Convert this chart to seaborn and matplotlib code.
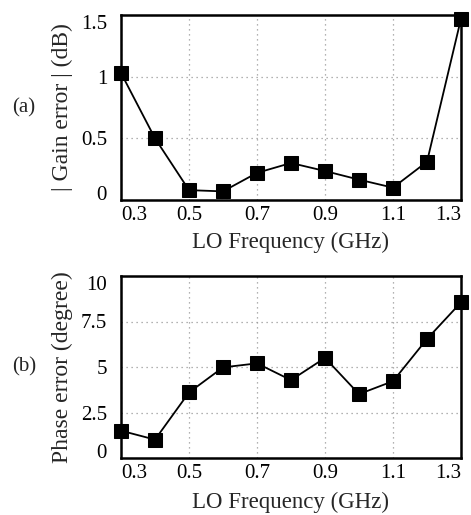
import matplotlib
matplotlib.use("Agg")
import matplotlib.pyplot as plt
import seaborn as sns
import pandas as pd

freq = [0.3, 0.4, 0.5, 0.6, 0.7, 0.8, 0.9, 1.0, 1.1, 1.2, 1.3]
gain_err = [1.03, 0.50, 0.08, 0.07, 0.22, 0.30, 0.235, 0.165, 0.10, 0.31, 1.47]
phase_err = [1.50, 1.01, 3.60, 4.98, 5.20, 4.28, 5.50, 3.51, 4.22, 6.54, 8.55]

xticks = [0.3, 0.5, 0.7, 0.9, 1.1, 1.3]
xticklabels = ["0.3", "0.5", "0.7", "0.9", "1.1", "1.3"]
gain_ticks = [0, 0.5, 1, 1.5]
gain_ticklabels = ["0", "0.5", "1", "1.5"]
phase_ticks = [0, 2.5, 5, 7.5, 10]
phase_ticklabels = ["0", "2.5", "5", "7.5", "10"]

sns.set_style("white")
plt.rcParams['font.family'] = ['Liberation Serif', 'DejaVu Serif']

W, H = 471, 515
fig = plt.figure(figsize=(W / 100, H / 100), dpi=100)

def px_axes(left, top, right, bottom):
    return fig.add_axes([left / W, 1 - bottom / H, (right - left) / W, (bottom - top) / H])

ax1 = px_axes(121, 15, 461, 200)
ax2 = px_axes(121, 276, 461, 458)

df = pd.DataFrame({"freq": freq, "gain": gain_err, "phase": phase_err})

for ax, col, ylim, yt, ytl, ylab, tag, lp in [
    (ax1, "gain", (0, 1.5), gain_ticks, gain_ticklabels, "| Gain error | (dB)", "(a)", 5),
    (ax2, "phase", (0, 10), phase_ticks, phase_ticklabels, "Phase error (degree)", "(b)", 7),
]:
    sns.lineplot(data=df, x="freq", y=col, ax=ax, color="black", linewidth=1.3,
                 marker="s", markersize=9.5, markeredgecolor="black",
                 markerfacecolor="black", clip_on=False, zorder=5)
    ax.set_xlim(0.3, 1.3)
    ax.set_ylim(*ylim)
    ax.set_xticks(xticks)
    ax.set_xticklabels(xticklabels, fontsize=15)
    ax.set_yticks(yt)
    ax.set_yticklabels(ytl, fontsize=15)
    xl = ax.get_xticklabels()
    xl[0].set_horizontalalignment("left")
    xl[-1].set_horizontalalignment("right")
    yl = ax.get_yticklabels()
    yl[0].set_verticalalignment("baseline")
    yl[-1].set_verticalalignment("top")
    ax.tick_params(axis="x", length=0, pad=4, colors="black")
    ax.tick_params(axis="y", length=0, pad=10, colors="black")
    ax.grid(True, linestyle=(0, (1, 3)), color="#999999", linewidth=0.9)
    for s in ax.spines.values():
        s.set_visible(True)
        s.set_color("black")
        s.set_linewidth(1.8)
    ax.set_xlabel("LO Frequency (GHz)", fontsize=16.5, labelpad=lp)
    ax.set_ylabel(ylab, fontsize=17)
    ax.yaxis.set_label_coords(-0.14, 0.5)
    ax.text(-0.285, 0.5, tag, transform=ax.transAxes, fontsize=15,
            ha="center", va="center")

fig.savefig("out.png", dpi=100)
